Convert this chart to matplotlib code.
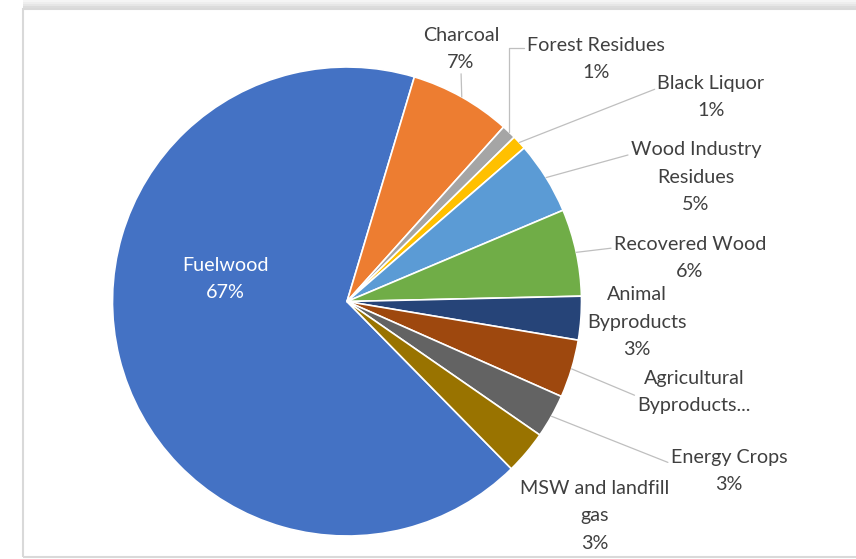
import numpy as np
import matplotlib.pyplot as plt
from matplotlib.patches import Rectangle

# Biomass supply shares (%)
sources = ['Fuelwood', 'Charcoal', 'Forest Residues', 'Black Liquor',
           'Wood Industry\nResidues', 'Recovered Wood', 'Animal\nByproducts',
           'Agricultural\nByproducts...', 'Energy Crops', 'MSW and landfill\ngas']
shares = [67, 7, 1, 1, 5, 6, 3, 4, 3, 3]
show_pct = [True, True, True, True, True, True, True, False, True, True]
colors = ['#4472C4', '#ED7D31', '#A5A5A5', '#FFC000', '#5B9BD5',
          '#70AD47', '#264478', '#9E480E', '#636363', '#997300']

W, H = 856, 559
cx, cy, R = 347, 301.5, 234.5   # pie centre and radius in pixels


def px(x, y):
    # pixel position -> data units (pie radius = 1)
    return ((x - cx) / R, (cy - y) / R)


# label centres (pixels), arrow attach point on the text box (None = no leader)
label_pos = [(225, 279), (461, 49), (596, 59), (711, 97), (696, 177),
             (690, 258), (637, 322), (694, 392), (729, 471), (595, 516)]
attach = [None, (0.5, 0.0), (0.0, 0.75), (0.0, 0.7), (0.0, 0.82),
          (0.0, 0.73), None, (0.0, 0.4), (0.0, 0.67), None]

plt.rcParams['font.family'] = ['Lato', 'DejaVu Sans']
FS = 14.2
LS = 1.72

fig = plt.figure(figsize=(W / 100, H / 100), dpi=100)
ax = fig.add_axes([0, 0, 1, 1])

# Fuelwood first, going clockwise from lower right
wedges, _ = ax.pie(shares, colors=colors, startangle=-45.5, counterclock=False,
                   radius=1, wedgeprops=dict(edgecolor='white', linewidth=1.2))

ax.set_aspect('auto')
ax.set_xlim(-cx / R, (W - cx) / R)
ax.set_ylim(-(H - cy) / R, cy / R)
ax.axis('off')

for i, (w, name) in enumerate(zip(wedges, sources)):
    txt = name + ('\n%d%%' % shares[i] if show_pct[i] else '')
    tx, ty = px(*label_pos[i])
    color = 'white' if i == 0 else '#404040'
    if attach[i] is None:
        ax.text(tx, ty, txt, ha='center', va='center', fontsize=FS,
                color=color, linespacing=LS)
        continue
    mid = np.deg2rad((w.theta1 + w.theta2) / 2)
    tip = (np.cos(mid), np.sin(mid))
    conn = 'angle,angleA=0,angleB=90,rad=0' if i == 2 else 'arc3'
    ax.annotate(txt, xy=tip, xytext=(tx, ty), ha='center', va='center',
                fontsize=FS, color=color, linespacing=LS,
                arrowprops=dict(arrowstyle='-', color='#bfbfbf', lw=0.9,
                                relpos=attach[i], connectionstyle=conn,
                                shrinkA=0, shrinkB=0))

# chart frame with soft shadow along the top
fig.patches.append(Rectangle((23 / W, (H - 557) / H), 1.0, (557 - 9) / H,
                             transform=fig.transFigure, fill=False,
                             edgecolor='#d9d9d9', lw=1.5, zorder=0))
for k, g in enumerate(['#dcdcdc', '#e6e6e6', '#eeeeee', '#f5f5f5']):
    fig.patches.append(Rectangle((23 / W, (H - 8 + k * 2) / H), 1.0, 2 / H,
                                 transform=fig.transFigure, color=g,
                                 lw=0, zorder=0))

fig.savefig('out.png', dpi=100)
